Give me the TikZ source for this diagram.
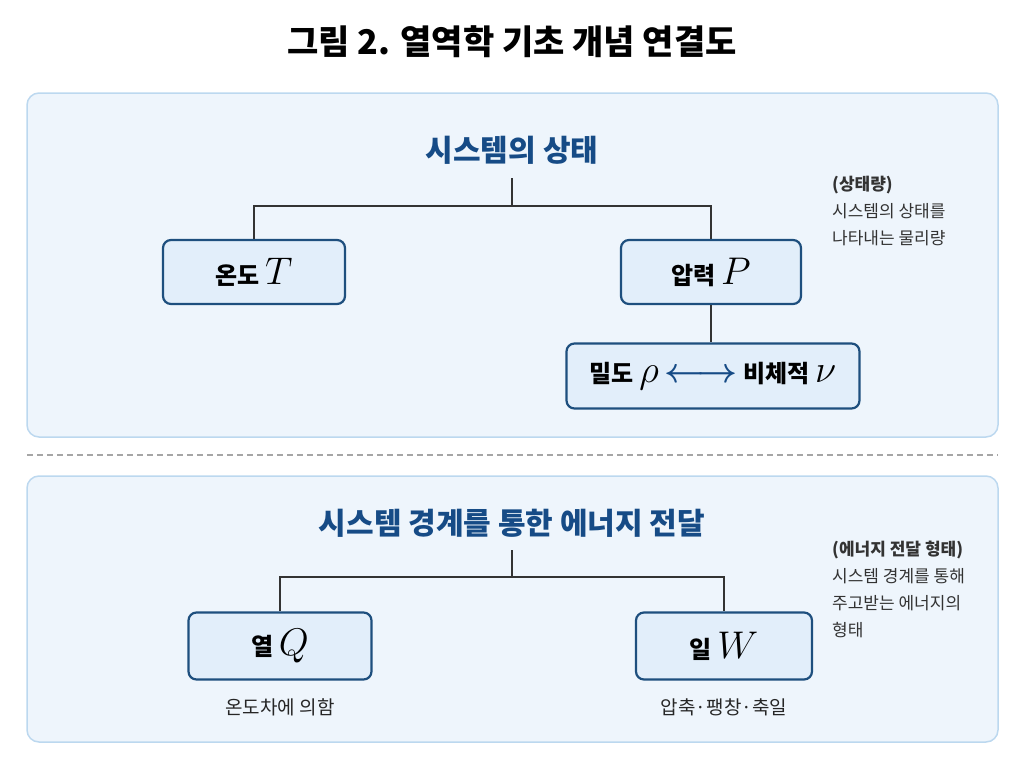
\documentclass[tikz,border=0pt]{standalone}
\usepackage{fontspec}
\setmainfont{Noto Sans CJK KR}
\usepackage{amsmath}
\usepackage{graphicx}
\definecolor{pfill}{HTML}{EEF5FC}
\definecolor{pdraw}{HTML}{BCD8EF}
\definecolor{bfill}{HTML}{E2EEFA}
\definecolor{bdraw}{HTML}{1E4F7E}
\definecolor{hcol}{HTML}{164B86}
\newcommand{\mth}[1]{\scalebox{1.55}{$#1$}}
\begin{document}
\begin{tikzpicture}[x=1pt,y=-1pt,
 panel/.style={draw=pdraw, line width=1.5pt, fill=pfill, rounded corners=12pt},
 box/.style={draw=bdraw, line width=2.2pt, fill=bfill, rounded corners=8pt, minimum height=64pt, font=\fontsize{24}{28}\selectfont\bfseries, inner sep=0pt},
 head/.style={font=\fontsize{30}{34}\selectfont\bfseries, text=hcol},
 note/.style={font=\fontsize{17}{27}\selectfont, align=left, anchor=north west, text=black!80, inner sep=0pt},
 sub/.style={font=\fontsize{19}{22}\selectfont, text=black!85},
 wire/.style={draw=black!80, line width=1.5pt}]
\useasboundingbox (0,0) rectangle (1024,768);
\node[font=\fontsize{34}{40}\selectfont\bfseries] (title) at (512,42) {그림 2. 열역학 기초 개념 연결도};
\draw[panel] (27,93) rectangle (998,437);
\draw[panel] (27,476) rectangle (998,742);
\draw[black!35, line width=1.2pt, dash pattern=on 6pt off 4pt] (27,455) -- (998,455);
% panel 1
\node[head] (h1) at (512,150) {시스템의 상태};
\node[box, minimum width=182pt] (T) at (254,272) {온도 \mth{T}};
\node[box, minimum width=180pt] (P) at (711,272) {압력 \mth{P}};
\node[box, minimum width=293pt, minimum height=65pt] (rho) at (713,376) {밀도 \mth{\rho} {\color{hcol}\scalebox{1.4}{$\boldsymbol{\longleftrightarrow}$}} 비체적 \mth{\nu}};
\coordinate (j1) at (512,206);
\draw[wire] (512,178) -- (j1);
\draw[wire] (T.north) |- (j1) -| (P.north);
\draw[wire] (P.south) -- (P.south |- rho.north);
\node[note] (n1) at (832,176) {\textbf{(상태량)}\\시스템의 상태를\\나타내는 물리량};
% panel 2
\node[head] (h2) at (512,523) {시스템 경계를 통한 에너지 전달};
\node[box, minimum width=183pt, minimum height=67pt] (Q) at (280,646) {열 \mth{Q}};
\node[box, minimum width=176pt, minimum height=67pt] (W) at (724,646) {일 \mth{W}};
\coordinate (j2) at (512,577);
\draw[wire] (512,550) -- (j2);
\draw[wire] (Q.north) |- (j2) -| (W.north);
\node[sub] (sq) at (280,707) {온도차에 의함};
\node[sub] (sw) at (724,707) {압축·팽창·축일};
\node[note] (n2) at (832,541) {\textbf{(에너지 전달 형태)}\\시스템 경계를 통해\\주고받는 에너지의\\형태};
\end{tikzpicture}
\end{document}
